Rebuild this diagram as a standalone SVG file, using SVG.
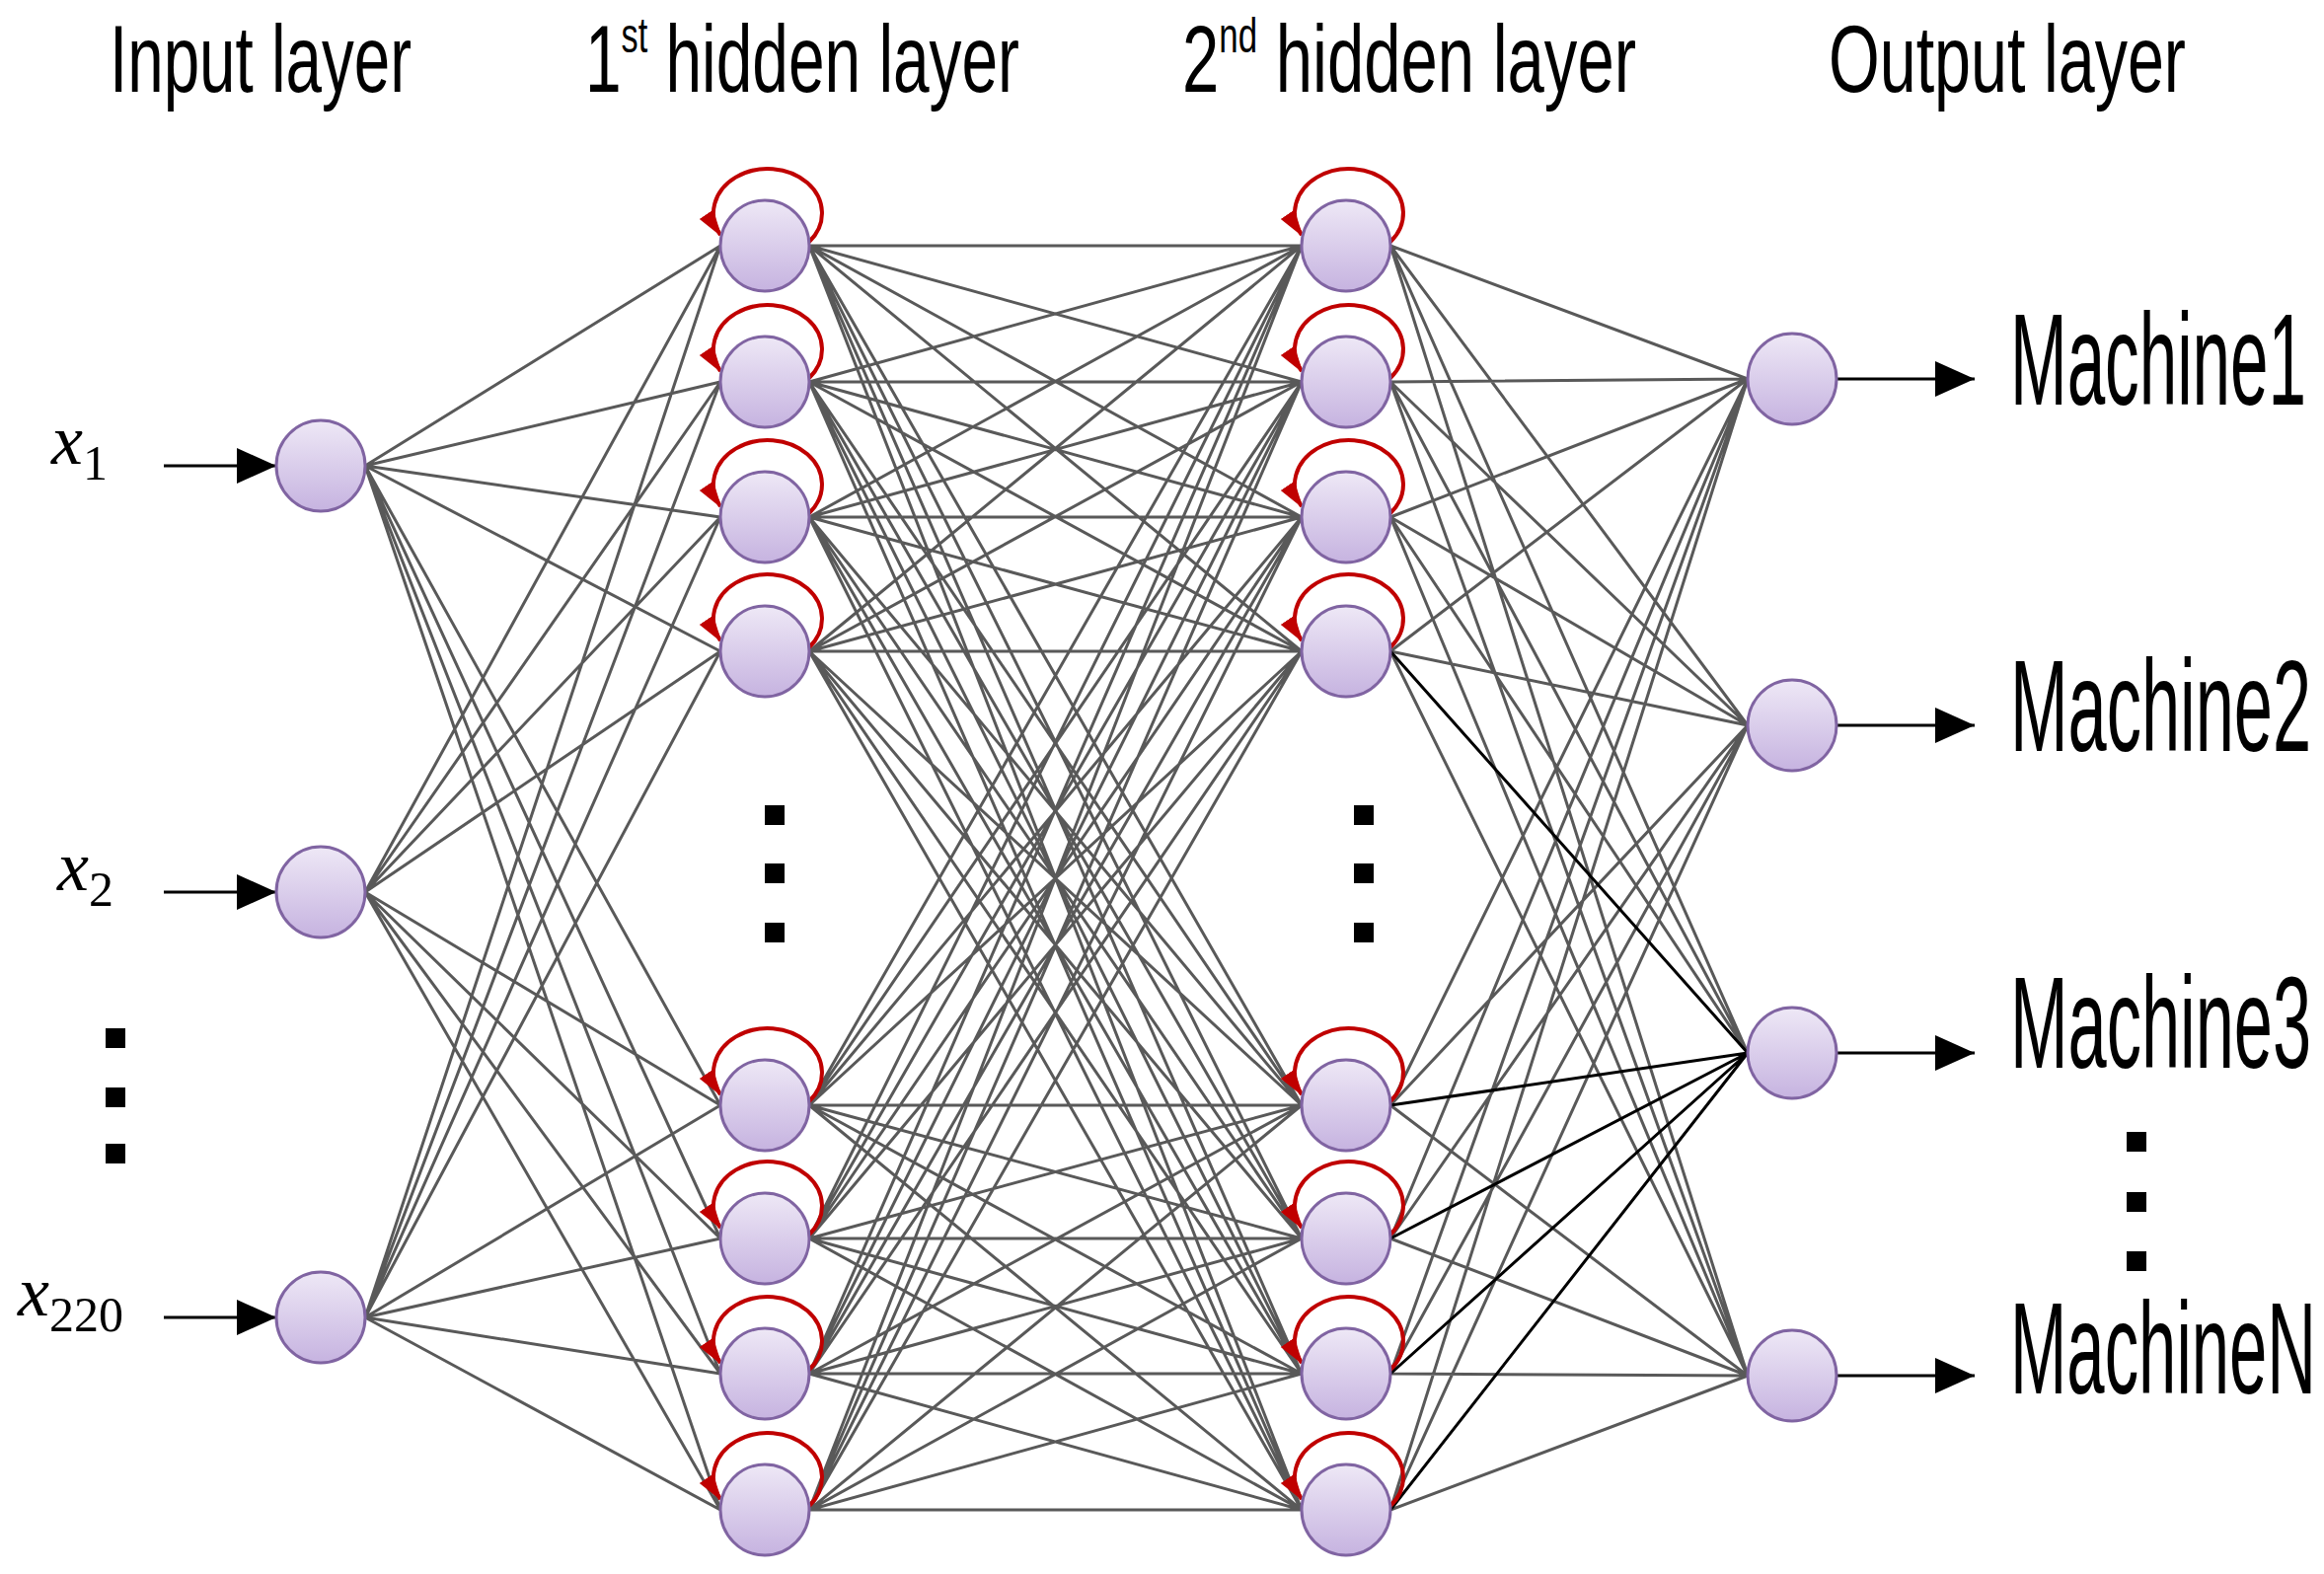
<svg xmlns="http://www.w3.org/2000/svg" width="2355" height="1595" viewBox="0 0 2355 1595">
<defs>
<linearGradient id="g" x1="0" y1="0" x2="0" y2="1"><stop offset="0" stop-color="#eee8f6"/><stop offset="1" stop-color="#c6b3e0"/></linearGradient>
<marker id="ab" viewBox="0 0 10 10" refX="10" refY="5" markerWidth="40" markerHeight="40" markerUnits="userSpaceOnUse" orient="auto"><path d="M0,0.5 L10,5 L0,9.5 Z" fill="#000"/></marker>
<marker id="ar" viewBox="0 0 10 10" refX="9" refY="5" markerWidth="28" markerHeight="28" markerUnits="userSpaceOnUse" orient="auto"><path d="M0,2 L10,5 L0,8 Z" fill="#c00000"/></marker>
<style>
.n{fill:url(#g);stroke:#8064a2;stroke-width:3}
.c{fill:none;stroke:#595959;stroke-width:3}
.k{fill:none;stroke:#000;stroke-width:3}
.l{fill:none;stroke:#c00000;stroke-width:4;marker-end:url(#ar)}
.t{font-family:"Liberation Sans",Arial,sans-serif;fill:#000}
.m{font-family:"Liberation Serif",serif;font-style:italic;font-size:72px}
.d{fill:#000}
</style>
</defs>
<rect width="2355" height="1595" fill="#fff"/>
<g id="titles" class="t" font-size="96">
<text x="111" y="93" textLength="306" lengthAdjust="spacingAndGlyphs">Input layer</text>
<text x="593" y="93" textLength="440" lengthAdjust="spacingAndGlyphs">1<tspan font-size="50" dy="-40">st</tspan><tspan dy="40"> hidden layer</tspan></text>
<text x="1198" y="93" textLength="460" lengthAdjust="spacingAndGlyphs">2<tspan font-size="50" dy="-40">nd</tspan><tspan dy="40"> hidden layer</tspan></text>
<text x="1853" y="93" textLength="362" lengthAdjust="spacingAndGlyphs">Output layer</text>
</g>
<g id="connectors">
<path class="c" d="M370 472L730 249M370 472L730 387M370 472L730 524M370 472L730 660M370 472L730 1120M370 472L730 1255M370 472L730 1392M370 472L730 1530
M370 904L730 249M370 904L730 387M370 904L730 524M370 904L730 660M370 904L730 1120M370 904L730 1255M370 904L730 1392M370 904L730 1530
M370 1335L730 249M370 1335L730 387M370 1335L730 524M370 1335L730 660M370 1335L730 1120M370 1335L730 1255M370 1335L730 1392M370 1335L730 1530"/>
<path class="c" d="M820 249L1319 249M820 249L1319 387M820 249L1319 524M820 249L1319 660M820 249L1319 1120M820 249L1319 1255M820 249L1319 1392M820 249L1319 1530
M820 387L1319 249M820 387L1319 387M820 387L1319 524M820 387L1319 660M820 387L1319 1120M820 387L1319 1255M820 387L1319 1392M820 387L1319 1530
M820 524L1319 249M820 524L1319 387M820 524L1319 524M820 524L1319 660M820 524L1319 1120M820 524L1319 1255M820 524L1319 1392M820 524L1319 1530
M820 660L1319 249M820 660L1319 387M820 660L1319 524M820 660L1319 660M820 660L1319 1120M820 660L1319 1255M820 660L1319 1392M820 660L1319 1530
M820 1120L1319 249M820 1120L1319 387M820 1120L1319 524M820 1120L1319 660M820 1120L1319 1120M820 1120L1319 1255M820 1120L1319 1392M820 1120L1319 1530
M820 1255L1319 249M820 1255L1319 387M820 1255L1319 524M820 1255L1319 660M820 1255L1319 1120M820 1255L1319 1255M820 1255L1319 1392M820 1255L1319 1530
M820 1392L1319 249M820 1392L1319 387M820 1392L1319 524M820 1392L1319 660M820 1392L1319 1120M820 1392L1319 1255M820 1392L1319 1392M820 1392L1319 1530
M820 1530L1319 249M820 1530L1319 387M820 1530L1319 524M820 1530L1319 660M820 1530L1319 1120M820 1530L1319 1255M820 1530L1319 1392M820 1530L1319 1530"/>
<path class="c" d="M1409 249L1771 384M1409 249L1771 735M1409 249L1771 1067M1409 249L1771 1394
M1409 387L1771 384M1409 387L1771 735M1409 387L1771 1067M1409 387L1771 1394
M1409 524L1771 384M1409 524L1771 735M1409 524L1771 1067M1409 524L1771 1394
M1409 660L1771 384M1409 660L1771 735M1409 660L1771 1394
M1409 1120L1771 384M1409 1120L1771 735M1409 1120L1771 1394
M1409 1255L1771 384M1409 1255L1771 735M1409 1255L1771 1394
M1409 1392L1771 384M1409 1392L1771 735M1409 1392L1771 1394
M1409 1530L1771 384M1409 1530L1771 735M1409 1530L1771 1394"/>
<path class="k" d="M1409 660L1771 1067M1409 1120L1771 1067M1409 1255L1771 1067M1409 1392L1771 1067M1409 1530L1771 1067"/>
<path class="k" marker-end="url(#ab)" d="M166 472L280 472"/>
<path class="k" marker-end="url(#ab)" d="M166 904L280 904"/>
<path class="k" marker-end="url(#ab)" d="M166 1335L280 1335"/>
<path class="k" marker-end="url(#ab)" d="M1862 384L2001 384"/>
<path class="k" marker-end="url(#ab)" d="M1862 735L2001 735"/>
<path class="k" marker-end="url(#ab)" d="M1862 1067L2001 1067"/>
<path class="k" marker-end="url(#ab)" d="M1862 1394L2001 1394"/>
<g id="loops">
<path class="l" d="M820 245A55 45 0 1 0 730 238"/><path class="l" d="M820 383A55 45 0 1 0 730 376"/><path class="l" d="M820 520A55 45 0 1 0 730 513"/><path class="l" d="M820 656A55 45 0 1 0 730 649"/>
<path class="l" d="M820 1116A55 45 0 1 0 730 1109"/><path class="l" d="M820 1251A55 45 0 1 0 730 1244"/><path class="l" d="M820 1388A55 45 0 1 0 730 1381"/><path class="l" d="M820 1526A55 45 0 1 0 730 1519"/>
<path class="l" d="M1409 245A55 45 0 1 0 1319 238"/><path class="l" d="M1409 383A55 45 0 1 0 1319 376"/><path class="l" d="M1409 520A55 45 0 1 0 1319 513"/><path class="l" d="M1409 656A55 45 0 1 0 1319 649"/>
<path class="l" d="M1409 1116A55 45 0 1 0 1319 1109"/><path class="l" d="M1409 1251A55 45 0 1 0 1319 1244"/><path class="l" d="M1409 1388A55 45 0 1 0 1319 1381"/><path class="l" d="M1409 1526A55 45 0 1 0 1319 1519"/>
</g>
</g>
<g id="input-layer">
<ellipse class="n" cx="325" cy="472" rx="45" ry="46"/><ellipse class="n" cx="325" cy="904" rx="45" ry="46"/><ellipse class="n" cx="325" cy="1335" rx="45" ry="46"/>
<text class="m" x="52" y="470">x<tspan font-style="normal" font-size="50" dy="16">1</tspan></text>
<text class="m" x="58" y="902">x<tspan font-style="normal" font-size="50" dy="16">2</tspan></text>
<text class="m" x="18" y="1333">x<tspan font-style="normal" font-size="50" dy="16">220</tspan></text>
<rect class="d" x="107" y="1042" width="20" height="20"/><rect class="d" x="107" y="1102" width="20" height="20"/><rect class="d" x="107" y="1159" width="20" height="20"/>
</g>
<g id="hidden-1">
<ellipse class="n" cx="775" cy="249" rx="45" ry="46"/><ellipse class="n" cx="775" cy="387" rx="45" ry="46"/><ellipse class="n" cx="775" cy="524" rx="45" ry="46"/><ellipse class="n" cx="775" cy="660" rx="45" ry="46"/>
<ellipse class="n" cx="775" cy="1120" rx="45" ry="46"/><ellipse class="n" cx="775" cy="1255" rx="45" ry="46"/><ellipse class="n" cx="775" cy="1392" rx="45" ry="46"/><ellipse class="n" cx="775" cy="1530" rx="45" ry="46"/>
<rect class="d" x="775" y="816" width="20" height="20"/><rect class="d" x="775" y="875" width="20" height="20"/><rect class="d" x="775" y="935" width="20" height="20"/>
</g>
<g id="hidden-2">
<ellipse class="n" cx="1364" cy="249" rx="45" ry="46"/><ellipse class="n" cx="1364" cy="387" rx="45" ry="46"/><ellipse class="n" cx="1364" cy="524" rx="45" ry="46"/><ellipse class="n" cx="1364" cy="660" rx="45" ry="46"/>
<ellipse class="n" cx="1364" cy="1120" rx="45" ry="46"/><ellipse class="n" cx="1364" cy="1255" rx="45" ry="46"/><ellipse class="n" cx="1364" cy="1392" rx="45" ry="46"/><ellipse class="n" cx="1364" cy="1530" rx="45" ry="46"/>
<rect class="d" x="1372" y="816" width="20" height="20"/><rect class="d" x="1372" y="875" width="20" height="20"/><rect class="d" x="1372" y="935" width="20" height="20"/>
</g>
<g id="output-layer">
<ellipse class="n" cx="1816" cy="384" rx="45" ry="46"/><ellipse class="n" cx="1816" cy="735" rx="45" ry="46"/><ellipse class="n" cx="1816" cy="1067" rx="45" ry="46"/><ellipse class="n" cx="1816" cy="1394" rx="45" ry="46"/>
<g class="t" font-size="132">
<text x="2037" y="410" textLength="300" lengthAdjust="spacingAndGlyphs">Machine1</text>
<text x="2037" y="761" textLength="305" lengthAdjust="spacingAndGlyphs">Machine2</text>
<text x="2037" y="1082" textLength="305" lengthAdjust="spacingAndGlyphs">Machine3</text>
<text x="2037" y="1412" textLength="310" lengthAdjust="spacingAndGlyphs">MachineN</text>
</g>
<rect class="d" x="2155" y="1147" width="20" height="20"/><rect class="d" x="2155" y="1208" width="20" height="20"/><rect class="d" x="2155" y="1268" width="20" height="20"/>
</g>
</svg>
